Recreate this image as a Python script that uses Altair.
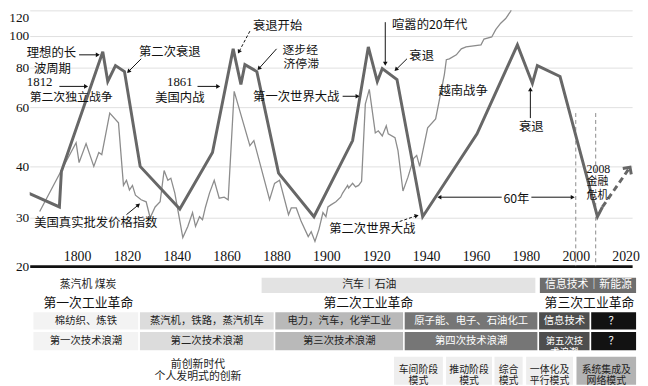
import altair as alt
import pandas as pd

# ---------------- data ----------------
YEAR_TICKS = [1800, 1820, 1840, 1860, 1880, 1900, 1920, 1940, 1960, 1980, 2000, 2020]
VALUE_TICKS = [20, 30, 40, 60, 80, 100, 120]

# idealised long wave (thick line)
wave_years = [1780.5, 1792.9, 1793.7, 1810.3, 1812.3, 1815.4, 1819.0, 1825.3, 1841.2, 1854.3,
              1862.6, 1865.7, 1867.3, 1872.1, 1880.8, 1895.0, 1910.5, 1916.8, 1920.4, 1922.4,
              1928.3, 1938.6, 1960.4, 1976.6, 1982.6, 1984.6, 1993.7, 2008.7, 2010.7]
wave_values = [34.8, 32.1, 39.0, 90, 73, 81.3, 78, 40, 31.7, 44.7,
               91.9, 71.5, 81.9, 78, 38.7, 30.2, 48.7, 93.1, 73, 79.5,
               74, 30.2, 51, 94.4, 72, 81.3, 75.5, 30.2, 32.1]
forecast_years = [2010.7, 2021.4]
forecast_values = [32.1, 39.6]

# US real wholesale price index (thin line)
price_years = [1785.0, 1794.1, 1799.6, 1800.8, 1803.6, 1806.7, 1808.7, 1809.9, 1813.1, 1816.6,
               1818.6, 1819.8, 1821.0, 1822.2, 1823.4, 1825.7, 1827.7, 1829.3, 1831.3, 1833.3,
               1834.9, 1836.4, 1837.6, 1839.2, 1842.4, 1844.4, 1846.3, 1847.5, 1849.1, 1850.3,
               1851.5, 1853.1, 1855.0, 1857.0, 1859.0, 1860.6, 1863.0, 1869.3, 1870.9, 1877.2,
               1879.2, 1881.2, 1884.8, 1885.9, 1887.9, 1889.9, 1892.7, 1893.9, 1895.4, 1897.0,
               1898.6, 1899.8, 1900.6, 1901.8, 1903.8, 1905.7, 1906.5, 1908.5, 1908.9, 1910.5,
               1911.7, 1912.9, 1914.1, 1915.6, 1917.2, 1919.6, 1920.8, 1922.4, 1924.0, 1924.8,
               1927.5, 1928.7, 1930.7, 1932.7, 1935.0, 1936.2, 1937.4, 1940.6, 1943.8, 1947.3,
               1948.1, 1949.3, 1952.1, 1954.1, 1956.0, 1962.0, 1963.2, 1966.3, 1967.9, 1969.9,
               1971.9, 1973.9, 1975.0]
price_values = [31.2, 39.6, 48, 41.3, 47.7, 40, 44.7, 44, 58, 54.7,
                36.3, 37.3, 35.4, 36.3, 34.4, 33.5, 33.1, 30, 32.1, 33.1,
                39.2, 37.3, 37.7, 34.8, 25.9, 28.2, 31, 28.2, 30.2, 29.6,
                32.1, 34.8, 37.3, 33.8, 34, 33.5, 68, 47, 48.7, 33.5,
                36.7, 37.3, 30.6, 31.9, 31.9, 29.2, 26.1, 27.1, 25.1, 27.6,
                31, 30.2, 32.1, 32.5, 33.1, 34, 34.8, 36.3, 35.8, 36.7,
                36, 36.3, 37.1, 61.5, 69, 51.3, 52, 50.3, 53.7, 51,
                49.7, 45.3, 35.2, 37.9, 42.7, 43.7, 40, 53, 56, 76.5,
                85, 85.6, 88.1, 91.9, 93.1, 94.4, 98.1, 99.4, 105, 110,
                113.6, 119.3, 127]

crisis_years = [2000, 2008]
crisis_top = [58, 58]
crisis_bottom = [20, 20]

annot_text = ["理想的长", "波周期", "1812", "第二次独立战争", "第二次衰退", "1861", "美国内战",
              "衰退开始", "逐步经", "济停滞", "第一次世界大战", "喧嚣的20年代", "衰退", "越南战争",
              "衰退", "60年", "2008", "金融", "危机", "第二次世界大战", "美国真实批发价格指数"]
annot_year = [1789.7, 1790.1, 1785.0, 1797.6, 1837.2, 1841.2, 1841.2,
              1880.4, 1889.5, 1889.9, 1887.9, 1941.4, 1938.2, 1954.8,
              1982.2, 1976.2, 2009.1, 2008.7, 2008.7, 1918.4, 1807.5]
annot_value = [89.4, 79.5, 72.5, 65.3, 90, 72.5, 64.8,
               107.7, 91.0, 82.3, 65, 108.5, 87.5, 68,
               53.3, 33.7, 39.4, 36.9, 34.3, 27.6, 29.0]
annot_size = [12.5, 12.5, 13, 12, 12.5, 13, 12.5,
              12.5, 12, 12, 12.5, 12.5, 12.5, 12.5,
              12.5, 12.5, 12, 11, 11, 12.5, 12.5]
annot_serif = [0, 0, 1, 0, 0, 1, 0, 0, 0, 0, 0, 0, 0, 0, 0, 0, 1, 0, 0, 0, 0]

arrow_x1 = [1800.8, 1792.9, 1825.7, 1848.3, 1869.3, 1880.0, 1906.5, 1923.6, 1932.3, 1981.8, 1970.3, 1982.2, 1927.5, 1819.8]
arrow_v1 = [88.1, 70.5, 85.6, 70.5, 103.8, 91.9, 65.5, 110.8, 85.6, 56.3, 34, 34, 28.9, 30.6]
arrow_x2 = [1808.3, 1803.6, 1820.6, 1856.6, 1864.9, 1872.9, 1912.5, 1923.6, 1927.9, 1981.8, 1945.3, 1998.8, 1936.2, 1824.6]
arrow_v2 = [88.1, 70.5, 78, 70.5, 90, 79.5, 65.5, 82.5, 79, 69, 34, 34, 30.4, 32.5]
arrow_angle = [90, 90, 225, 90, 208, 222, 90, 180, 225, 0, 270, 90, 75, 50]
arrow_dashed = [0, 0, 0, 0, 1, 0, 0, 0, 0, 0, 0, 0, 1, 0]

# ---------- table below the chart ----------
energy_x0 = [1873.7, 1985.3]
energy_x1 = [1984.1, 2024.5]
energy_fill = ["#e3e3e3", "#6e6e6e"]

wave_edges = [1782.2, 1824.9, 1879.2, 1931.1, 1985.0, 2005.9, 2024.5]
tech_labels = ["棉纺织、炼铁", "蒸汽机，铁路，蒸汽机车", "电力，汽车，化学工业",
               "原子能、电子、石油化工", "信息技术", "？"]
wave_labels = ["第一次技术浪潮", "第二次技术浪潮", "第三次技术浪潮",
               "第四次技术浪潮", "第五次技\n术浪潮", "？"]
cell_fill = ["#f3f3f3", "#dcdcdc", "#b9b9b9", "#767676", "#4e4e4e", "#121212"]
cell_text = ["#222222", "#222222", "#222222", "#ffffff", "#ffffff", "#ffffff"]

mode_x0 = [1926.8, 1947.7, 1967.1, 1979.8, 2000.0]
mode_x1 = [1947.0, 1966.7, 1979.0, 1999.2, 2024.5]
mode_labels = ["车间阶段\n模式", "推动阶段\n模式", "综合\n模式", "一体化及\n平行模式", "系统集成及\n网络模式"]
mode_fill = ["#eeeeee", "#eeeeee", "#eeeeee", "#eeeeee", "#b3b3b3"]

free_text = ["蒸汽机  煤炭", "汽车｜石油", "信息技术｜新能源", "第一次工业革命", "第二次工业革命",
             "第三次工业革命", "前创新时代", "个人发明式的创新"]
free_year = [1804.4, 1917.2, 2005.1, 1804.5, 1916.8, 2005.5, 1848.5, 1848.5]
free_row = [10.5, 10.5, 10.5, 28, 28, 28, 91, 103]
free_size = [11, 11, 11, 13, 13, 13, 11, 11]
free_color = ["#222222", "#222222", "#ffffff", "#111111", "#111111", "#111111", "#222222", "#222222"]

# row bands of the table (in table units)
ROW_ENERGY = (2, 19)
ROW_TECH = (37, 56)
ROW_WAVE = (57, 77)
ROW_MODE = (82, 112)

# ---------------- frames ----------------
wave_df = pd.DataFrame({"year": wave_years, "value": wave_values})
fc_df = pd.DataFrame({"year": forecast_years, "value": forecast_values})
tip_df = fc_df.tail(1)
price_df = pd.DataFrame({"year": price_years, "value": price_values})
crisis_df = pd.DataFrame({"year": crisis_years, "top": crisis_top, "bottom": crisis_bottom})
annot_df = pd.DataFrame({"year": annot_year, "value": annot_value, "text": annot_text,
                         "size": annot_size, "serif": annot_serif})
arrow_df = pd.DataFrame({"x1": arrow_x1, "v1": arrow_v1, "x2": arrow_x2, "v2": arrow_v2,
                         "angle": arrow_angle, "dashed": arrow_dashed})

cells = []
for i in range(2):
    cells.append({"x0": energy_x0[i], "x1": energy_x1[i], "t0": ROW_ENERGY[0], "t1": ROW_ENERGY[1],
                  "fill": energy_fill[i], "label": "", "tcolor": "#000", "size": 11, "tm": 10.5})
for i in range(6):
    cells.append({"x0": wave_edges[i], "x1": wave_edges[i + 1], "t0": ROW_TECH[0], "t1": ROW_TECH[1],
                  "fill": cell_fill[i], "label": tech_labels[i], "tcolor": cell_text[i], "size": 10.5,
                  "tm": (ROW_TECH[0] + ROW_TECH[1]) / 2})
    cells.append({"x0": wave_edges[i], "x1": wave_edges[i + 1], "t0": ROW_WAVE[0], "t1": ROW_WAVE[1],
                  "fill": cell_fill[i], "label": wave_labels[i], "tcolor": cell_text[i],
                  "size": 10.5 if i != 4 else 9.5, "tm": (ROW_WAVE[0] + ROW_WAVE[1]) / 2})
for i in range(5):
    cells.append({"x0": mode_x0[i], "x1": mode_x1[i], "t0": ROW_MODE[0], "t1": ROW_MODE[1],
                  "fill": mode_fill[i], "label": mode_labels[i], "tcolor": "#222222", "size": 10,
                  "tm": 96})
cells_df = pd.DataFrame(cells)
cells_df["xm"] = (cells_df["x0"] + cells_df["x1"]) / 2
free_df = pd.DataFrame({"year": free_year, "row": free_row, "text": free_text,
                        "size": free_size, "color": free_color})

# ---------------- scales ----------------
W, H = 610, 378
x_scale = alt.Scale(domain=[1781, 2022.6], nice=False, zero=False)


def y_main():
    return alt.Scale(domain=VALUE_TICKS, range=[259, 210, 158, 98, 58, 26, 0], nice=False, zero=False)


def y_table():
    return alt.Scale(domain=[-268, 110], range=[0, 378], nice=False, zero=False)


CJK = "Noto Sans CJK SC"
SERIF = "Liberation Serif"

x_axis = alt.Axis(orient="top", offset=-259, values=YEAR_TICKS, format="d", title=None, grid=False,
                  ticks=False, tickSize=0, domainColor="#111111", domainWidth=3,
                  labelFont=SERIF, labelFontSize=14, labelColor="#111111",
                  labelPadding=3, labelFlush=False, labelOverlap=False)
y_axis = alt.Axis(values=VALUE_TICKS, title=None, grid=True, gridColor="#e0e0e0", gridWidth=1,
                  domain=False, ticks=False, tickSize=0, labelPadding=1,
                  labelFont=SERIF, labelFontSize=13.5, labelColor="#111111",
                  labelFlush=False, labelOverlap=False,
                  labelBaseline={"condition": {"test": "datum.value >= 120", "value": "top"},
                                 "value": "middle"})

price = alt.Chart(price_df).mark_line(color="#8c8c8c", strokeWidth=1.3, clip=True).encode(
    x=alt.X("year:Q", scale=x_scale, axis=x_axis, title=None),
    y=alt.Y("value:Q", scale=y_main(), axis=y_axis, title=None),
    order="year:Q",
)

crisis = alt.Chart(crisis_df).mark_rule(color="#8a8a8a", strokeWidth=1, strokeDash=[4, 3]).encode(
    x=alt.X("year:Q", title=None),
    y=alt.Y("top:Q", scale=y_main(), axis=None),
    y2="bottom:Q",
)

wave = alt.Chart(wave_df).mark_line(color="#676767", strokeWidth=3, clip=True).encode(
    x=alt.X("year:Q", title=None),
    y=alt.Y("value:Q", scale=y_main(), axis=None),
    order="year:Q",
)

forecast = alt.Chart(fc_df).mark_line(color="#676767", strokeWidth=3, strokeDash=[6, 4]).encode(
    x=alt.X("year:Q", title=None),
    y=alt.Y("value:Q", scale=y_main(), axis=None),
)

tip = alt.Chart(tip_df).mark_point(shape="M-1,0.7L0,-0.3L1,0.7", filled=False, color="#676767",
                                   strokeWidth=3, size=110, angle=35, opacity=1).encode(
    x=alt.X("year:Q", title=None),
    y=alt.Y("value:Q", scale=y_main(), axis=None),
)

arrows_solid = alt.Chart(arrow_df[arrow_df.dashed == 0]).mark_rule(color="#111111", strokeWidth=1).encode(
    x=alt.X("x1:Q", title=None), x2="x2:Q",
    y=alt.Y("v1:Q", scale=y_main(), axis=None), y2="v2:Q",
)
arrows_dashed = alt.Chart(arrow_df[arrow_df.dashed == 1]).mark_rule(color="#111111", strokeWidth=1,
                                                                    strokeDash=[3, 2]).encode(
    x=alt.X("x1:Q", title=None), x2="x2:Q",
    y=alt.Y("v1:Q", scale=y_main(), axis=None), y2="v2:Q",
)
heads = alt.Chart(arrow_df).mark_point(shape="triangle-up", filled=True, color="#111111", size=22,
                                       opacity=1).encode(
    x=alt.X("x2:Q", title=None),
    y=alt.Y("v2:Q", scale=y_main(), axis=None),
    angle=alt.Angle("angle:Q", scale=None),
)

annots_cjk = alt.Chart(annot_df[annot_df.serif == 0]).mark_text(
    color="#111111", align="center", baseline="middle", font=CJK).encode(
    x=alt.X("year:Q", title=None),
    y=alt.Y("value:Q", scale=y_main(), axis=None),
    text="text:N",
    size=alt.Size("size:Q", scale=None),
)
annots_serif = alt.Chart(annot_df[annot_df.serif == 1]).mark_text(
    color="#111111", align="center", baseline="middle", font=SERIF).encode(
    x=alt.X("year:Q", title=None),
    y=alt.Y("value:Q", scale=y_main(), axis=None),
    text="text:N",
    size=alt.Size("size:Q", scale=None),
)

cell_rects = alt.Chart(cells_df).mark_rect(stroke="white", strokeWidth=1.5).encode(
    x=alt.X("x0:Q", title=None), x2="x1:Q",
    y=alt.Y("t0:Q", scale=y_table(), axis=None), y2="t1:Q",
    color=alt.Color("fill:N", scale=None),
)
cell_texts = alt.Chart(cells_df).mark_text(font=CJK, align="center", baseline="middle",
                                           lineBreak="\n", lineHeight=11.5).encode(
    x=alt.X("xm:Q", title=None),
    y=alt.Y("tm:Q", scale=y_table(), axis=None),
    text="label:N",
    color=alt.Color("tcolor:N", scale=None),
    size=alt.Size("size:Q", scale=None),
)
free_texts = alt.Chart(free_df).mark_text(font=CJK, align="center", baseline="middle").encode(
    x=alt.X("year:Q", title=None),
    y=alt.Y("row:Q", scale=y_table(), axis=None),
    text="text:N",
    color=alt.Color("color:N", scale=None),
    size=alt.Size("size:Q", scale=None),
)

chart = alt.layer(
    price, crisis, wave, forecast, tip, arrows_solid, arrows_dashed, heads, annots_cjk, annots_serif,
    cell_rects, cell_texts, free_texts,
).resolve_scale(y="independent").properties(
    width=W, height=H,
    autosize=alt.AutoSizeParams(type="none"),
    padding={"left": 22, "top": 0, "right": 8, "bottom": 0},
    background="white",
).configure_view(stroke=None)

chart.save("out.html", embed_options={"renderer": "svg", "actions": False})
